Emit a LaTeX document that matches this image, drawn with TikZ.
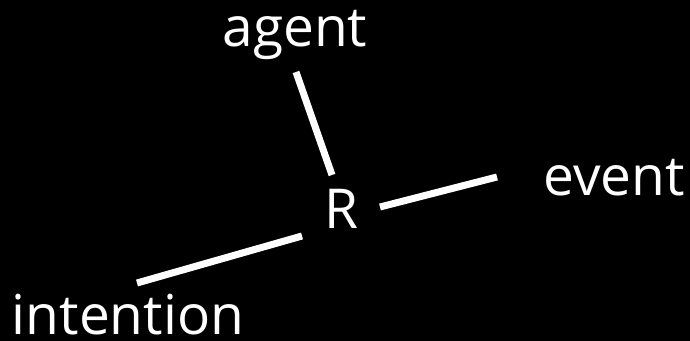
\documentclass[tikz,border=0pt]{standalone}
\usepackage{fontspec}
\setmainfont{Open Sans}
\usetikzlibrary{calc}

\begin{document}
\begin{tikzpicture}[x=0.5pt, y=-0.5pt,
    term/.style={text=white, anchor=base, inner sep=0pt, font=\fontsize{27.5}{30}\selectfont},
    link/.style={draw=white, line width=3.5pt}]
  \fill[black] (0,0) rectangle (690,341);
  \useasboundingbox (0,0) rectangle (690,341);
  \node[term] (agent) at (295,47) {agent};
  \node[term] (R) at (341,229) {R};
  \node[term] (event) at (614,196) {event};
  \node[term] (intention) at (128,335) {intention};
  \draw[link] ($(agent.base)+(1,25)$) -- ($(R.base)+(-9,-54)$);
  \draw[link] ($(R.base)+(39,-22)$) -- ($(event.base)+(-117,-19)$);
  \draw[link] ($(R.base)+(-39,7)$) -- ($(intention.base)+(9,-52)$);
\end{tikzpicture}
\end{document}
